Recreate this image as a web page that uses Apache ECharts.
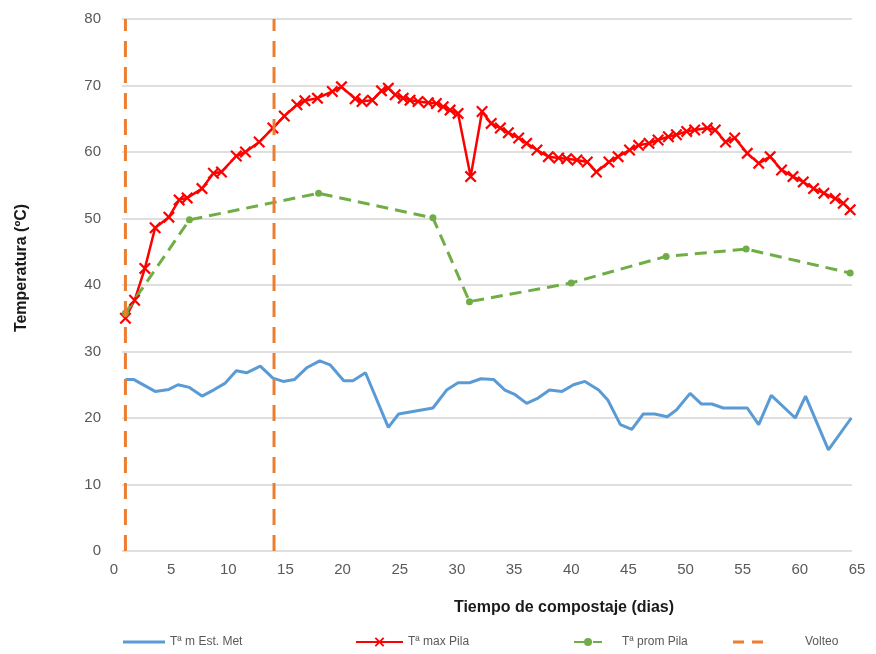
<!DOCTYPE html>
<html>
<head>
<meta charset="utf-8">
<script src="https://cdn.jsdelivr.net/npm/echarts@6/dist/echarts.min.js"></script>
<style>
html,body{margin:0;padding:0;background:#fff;}
#chart{width:876px;height:654px;}
</style>
</head>
<body>
<div id="chart"></div>
<script>
// X tick labels and Y tick labels
const xTicks = [0,5,10,15,20,25,30,35,40,45,50,55,60,65];
const yTicks = [0,10,20,30,40,50,60,70,80];

// Tª m Est. Met (blue)
const metDays = [1.0,1.7,3.6,4.8,5.6,6.6,7.7,8.7,9.7,10.7,11.6,12.8,13.9,14.8,15.8,16.9,18.0,18.9,20.1,20.9,22.0,24.0,24.9,27.9,29.1,30.1,31.1,32.1,33.2,34.2,35.1,36.1,37.1,38.1,39.2,40.2,41.2,42.4,43.2,44.3,45.3,46.3,47.3,48.4,49.2,50.4,51.4,52.3,53.3,55.4,56.4,57.5,59.6,60.5,62.5,64.5];
const metTemp = [25.8,25.8,24.0,24.3,25.0,24.6,23.3,24.2,25.2,27.1,26.8,27.8,26.0,25.5,25.8,27.6,28.6,28.0,25.6,25.6,26.8,18.6,20.6,21.5,24.2,25.3,25.3,25.9,25.8,24.2,23.5,22.2,23.0,24.2,24.0,25.0,25.5,24.2,22.7,19.0,18.3,20.6,20.6,20.2,21.2,23.7,22.1,22.1,21.5,21.5,19.0,23.4,20.0,23.3,15.2,20.0];

// Tª max Pila (red)
const maxDays = [1.0,1.8,2.7,3.6,4.8,5.7,6.4,7.7,8.7,9.4,10.7,11.5,12.7,13.9,14.9,16.0,16.7,17.8,19.1,19.9,21.1,21.7,22.6,23.4,24.0,24.6,25.3,25.9,26.6,27.5,28.2,28.8,29.4,30.1,31.2,32.2,33.0,33.8,34.5,35.4,36.1,37.0,38.0,38.9,39.6,40.5,41.4,42.2,43.3,44.1,45.1,45.9,46.8,47.6,48.5,49.2,50.1,50.8,51.9,52.6,53.5,54.3,55.4,56.4,57.4,58.4,59.4,60.3,61.2,62.1,63.1,63.8,64.4];
const maxTemp = [35.0,37.7,42.5,48.6,50.2,52.8,53.1,54.5,56.8,57.0,59.4,60.0,61.5,63.6,65.4,67.1,67.7,68.1,69.1,69.8,68.0,67.6,67.8,69.2,69.6,68.6,68.1,67.8,67.6,67.4,67.3,66.8,66.3,65.8,56.3,66.1,64.3,63.6,62.9,62.1,61.3,60.3,59.3,59.1,59.0,58.8,58.5,57.0,58.5,59.3,60.3,61.0,61.3,61.8,62.3,62.6,63.1,63.3,63.6,63.3,61.5,62.1,59.8,58.3,59.3,57.3,56.3,55.5,54.5,53.8,53.0,52.3,51.3];

// Tª prom Pila (green)
const promDays = [1.0,6.6,17.9,27.9,31.1,40.0,48.3,55.3,64.4];
const promTemp = [35.8,49.8,53.8,50.1,37.5,40.3,44.3,45.4,41.8];

// Volteo (turning days)
const volteoDays = [1,14];
const volteoRange = [0,80];

const zip = (a,b) => a.map((v,i) => [v,b[i]]);

const xSym = 'path://M0,1.3L1.3,0L5,3.7L8.7,0L10,1.3L6.3,5L10,8.7L8.7,10L5,6.3L1.3,10L0,8.7L3.7,5Z';
const labelFont = 'Liberation Sans';
const legendTop = 631;

const volteoSeries = volteoDays.map(d => ({
  name: 'Volteo', type: 'line', xAxisIndex: 0, yAxisIndex: 0,
  data: volteoRange.map(v => [d, v]),
  symbol: 'none', animation: false, z: 4,
  lineStyle: {color: '#ED7D31', width: 3, type: [16, 10]},
  itemStyle: {color: '#ED7D31'}
}));

const chart = echarts.init(document.getElementById('chart'), null, {renderer: 'canvas'});
chart.setOption({
  animation: false,
  backgroundColor: '#ffffff',
  grid: [
    {left: 114, right: 19, top: 19, bottom: 103},
    {left: 122, right: 24, top: 19, bottom: 103}
  ],
  xAxis: [
    {type: 'value', gridIndex: 0, min: xTicks[0], max: xTicks[xTicks.length-1], interval: 5,
     axisLine: {show: false}, axisTick: {show: false}, splitLine: {show: false},
     axisLabel: {color: '#595959', fontSize: 15, fontFamily: labelFont, margin: 11}},
    {type: 'value', gridIndex: 1, min: 0, max: 65, interval: 5,
     axisLine: {show: false}, axisTick: {show: false}, splitLine: {show: false}, axisLabel: {show: false}}
  ],
  yAxis: [
    {type: 'value', gridIndex: 0, min: yTicks[0], max: yTicks[yTicks.length-1], interval: 10,
     axisLine: {show: false}, axisTick: {show: false}, splitLine: {show: false},
     axisLabel: {color: '#595959', fontSize: 15, fontFamily: labelFont, margin: 13}},
    {type: 'value', gridIndex: 1, min: 0, max: 80, interval: 10,
     axisLine: {show: false}, axisTick: {show: false}, axisLabel: {show: false},
     splitLine: {show: true, lineStyle: {color: '#d4d4d4', width: 1.5}}}
  ],
  legend: [
    {data: [{name: 'Tª m Est. Met', icon: 'rect'}], left: 118, top: legendTop, itemWidth: 42, itemHeight: 3,
     textStyle: {color: '#595959', fontSize: 12, fontFamily: labelFont}},
    {data: ['Tª max Pila'], left: 350, top: legendTop, itemWidth: 47, itemHeight: 12,
     textStyle: {color: '#595959', fontSize: 12, fontFamily: labelFont}},
    {data: ['Tª prom Pila'], left: 568, top: legendTop, itemWidth: 28, itemHeight: 10,
     textStyle: {color: '#595959', fontSize: 12, fontFamily: labelFont, padding: [0,0,0,15]}},
    {data: [{name: 'Volteo', icon: 'path://M0,0L11,0L11,3L0,3ZM19,0L30,0L30,3L19,3Z'}], left: 728, top: legendTop,
     itemWidth: 30, itemHeight: 3,
     textStyle: {color: '#595959', fontSize: 12, fontFamily: labelFont, padding: [0,0,0,37]}}
  ],
  graphic: [
    {type: 'text', x: 564, y: 608,
     style: {text: 'Tiempo de compostaje (dias)', fill: '#1a1a1a', font: 'bold 16px "Liberation Sans"',
             textAlign: 'center', textVerticalAlign: 'middle'}},
    {type: 'text', x: 22, y: 268, rotation: Math.PI / 2,
     style: {text: 'Temperatura (ºC)', fill: '#1a1a1a', font: 'bold 16px "Liberation Sans"',
             textAlign: 'center', textVerticalAlign: 'middle'}}
  ],
  series: [
    {name: 'Tª m Est. Met', type: 'line', xAxisIndex: 0, yAxisIndex: 0,
     data: zip(metDays, metTemp), symbol: 'none', z: 2,
     lineStyle: {color: '#5B9BD5', width: 3}, itemStyle: {color: '#5B9BD5'}},
    {name: 'Tª max Pila', type: 'line', xAxisIndex: 0, yAxisIndex: 0,
     data: zip(maxDays, maxTemp), symbol: xSym, symbolSize: 12, z: 3,
     lineStyle: {color: '#FF0000', width: 2.5}, itemStyle: {color: '#FF0000'}},
    {name: 'Tª prom Pila', type: 'line', xAxisIndex: 0, yAxisIndex: 0,
     data: zip(promDays, promTemp), symbol: 'circle', symbolSize: 7, z: 3,
     lineStyle: {color: '#70AD47', width: 3, type: [12, 7]}, itemStyle: {color: '#70AD47'}},
    ...volteoSeries
  ]
});
</script>
</body>
</html>
